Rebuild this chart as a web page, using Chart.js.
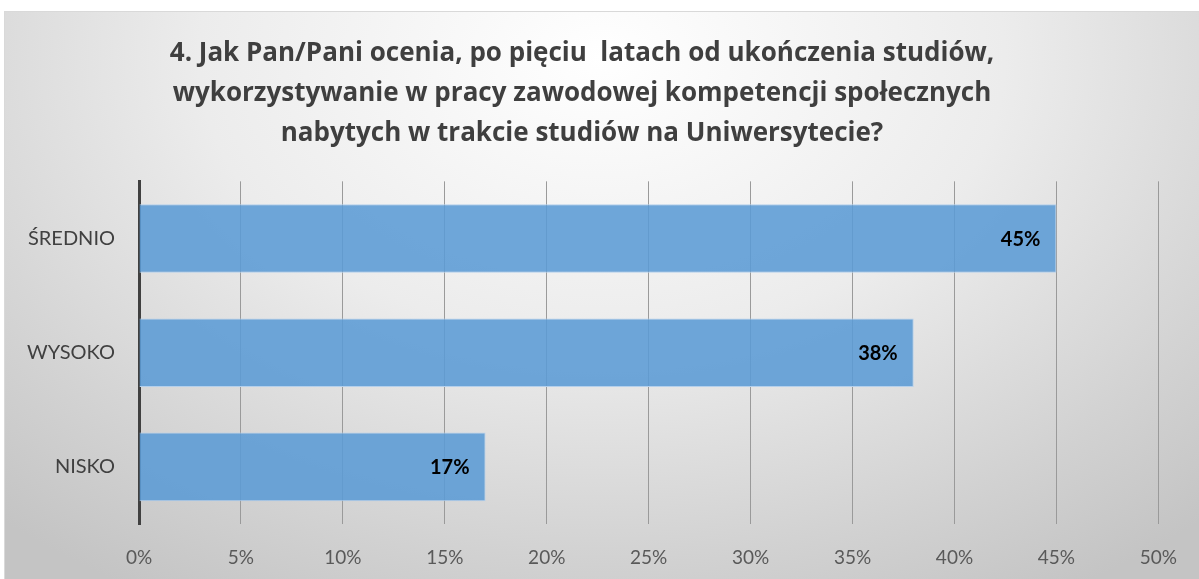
<!DOCTYPE html>
<html>
<head>
<meta charset="utf-8">
<script src="https://cdn.jsdelivr.net/npm/chart.js@4"></script>
<style>
  html, body { margin: 0; padding: 0; background: #fff; }
  #ramka {
    position: absolute; left: 4px; top: 11px; width: 1195px; height: 568px;
    background: radial-gradient(ellipse 75% 110% at 50% 8%, #ffffff 0%, #ececec 45%, #d2d2d2 80%, #c4c4c4 100%);
    border-top: 1px solid #d9d9d9; border-left: 1px solid #d9d9d9;
    box-sizing: border-box;
  }
  #grafica { display: block; }
</style>
</head>
<body>
<div id="ramka"><canvas id="grafica" width="1194" height="567"></canvas></div>
<script>
const kategorie = ['ŚREDNIO', 'WYSOKO', 'NISKO'];
const wartosci = [45, 38, 17];
const tytul = [
  '4. Jak Pan/Pani ocenia, po pięciu  latach od ukończenia studiów,',
  'wykorzystywanie w pracy zawodowej kompetencji społecznych',
  'nabytych w trakcie studiów na Uniwersytecie?'
];
const czcionka = 'Lato, "Open Sans", sans-serif';
const czcionkaTytulu = '"Open Sans", Lato, sans-serif';

// etykiety wartosci wewnatrz slupkow
const etykiety = {
  id: 'etykiety',
  afterDatasetsDraw(chart) {
    const ctx = chart.ctx;
    const meta = chart.getDatasetMeta(0);
    ctx.save();
    ctx.font = 'bold 20px ' + czcionka;
    ctx.fillStyle = '#000';
    ctx.textAlign = 'right';
    ctx.textBaseline = 'middle';
    meta.data.forEach((bar, i) => {
      ctx.fillText(wartosci[i] + '%', bar.x - 16, bar.y + 1);
    });
    ctx.restore();
  }
};

document.addEventListener('DOMContentLoaded', function () {
  const ctx = document.getElementById('grafica');
  new Chart(ctx, {
    type: 'bar',
    data: {
      labels: kategorie,
      datasets: [{
        data: wartosci,
        backgroundColor: 'rgba(91, 155, 213, 0.88)',
        borderColor: '#b4d0ec',
        borderWidth: 1,
        borderSkipped: 'start',
        barPercentage: 0.6,
        categoryPercentage: 1
      }]
    },
    options: {
      indexAxis: 'y',
      responsive: false,
      animation: false,
      layout: { padding: { left: 0, right: 40, top: 0, bottom: 0 } },
      scales: {
        x: {
          min: 0,
          max: 50,
          ticks: {
            stepSize: 5,
            color: '#595959',
            padding: 22,
            font: { size: 19, family: czcionka },
            callback: v => v + '%'
          },
          grid: { color: '#9a9a9a', lineWidth: 1, drawTicks: false },
          border: { display: false },
          afterFit: s => { s.height = 55; }
        },
        y: {
          ticks: {
            color: '#404040',
            padding: 16,
            font: { size: 20, family: czcionka }
          },
          grid: { display: false },
          border: { color: '#404040', width: 3 },
          afterFit: s => { s.width = 134; }
        }
      },
      plugins: {
        legend: { display: false },
        tooltip: { enabled: false },
        title: {
          display: true,
          text: tytul,
          color: '#3f3f3f',
          font: { size: 26, weight: 'bold', family: czcionkaTytulu, lineHeight: 1.53 },
          padding: { top: 22, bottom: 28 }
        }
      }
    },
    plugins: [etykiety]
  });
});
</script>
</body>
</html>
